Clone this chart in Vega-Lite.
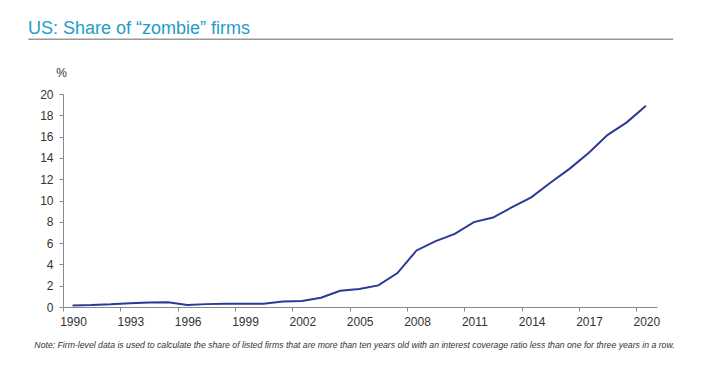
{
  "$schema": "https://vega.github.io/schema/vega-lite/v6.json",
  "autosize": {"type": "none"},
  "width": 594,
  "height": 213,
  "padding": {"left": 63, "top": 94, "right": 44, "bottom": 59},
  "config": {
    "view": {"stroke": null},
    "font": "Liberation Sans"
  },
  "title": {
    "text": "US: Share of “zombie” firms",
    "anchor": "start",
    "frame": "group",
    "color": "#1f9cc6",
    "fontSize": 18,
    "fontWeight": "normal",
    "font": "Liberation Sans",
    "dx": -35,
    "dy": 9,
    "offset": 10
  },
  "data": {
    "values": [
      {"year": "1990", "share": 0.15},
      {"year": "1991", "share": 0.18},
      {"year": "1992", "share": 0.25},
      {"year": "1993", "share": 0.36},
      {"year": "1994", "share": 0.42},
      {"year": "1995", "share": 0.45},
      {"year": "1996", "share": 0.18},
      {"year": "1997", "share": 0.27},
      {"year": "1998", "share": 0.3},
      {"year": "1999", "share": 0.3},
      {"year": "2000", "share": 0.3},
      {"year": "2001", "share": 0.52},
      {"year": "2002", "share": 0.56},
      {"year": "2003", "share": 0.87},
      {"year": "2004", "share": 1.53},
      {"year": "2005", "share": 1.69},
      {"year": "2006", "share": 2.03},
      {"year": "2007", "share": 3.19},
      {"year": "2008", "share": 5.31},
      {"year": "2009", "share": 6.19},
      {"year": "2010", "share": 6.87},
      {"year": "2011", "share": 7.97},
      {"year": "2012", "share": 8.4},
      {"year": "2013", "share": 9.37},
      {"year": "2014", "share": 10.3},
      {"year": "2015", "share": 11.66},
      {"year": "2016", "share": 12.97},
      {"year": "2017", "share": 14.47},
      {"year": "2018", "share": 16.16},
      {"year": "2019", "share": 17.34},
      {"year": "2020", "share": 18.9}
    ]
  },
  "resolve": {"axis": {"y": "independent"}},
  "layer": [
    {
      "mark": {"type": "line", "color": "#2b3a96", "strokeWidth": 2},
      "encoding": {
        "x": {
          "field": "year",
          "type": "temporal",
          "timeUnit": "utcyear",
          "bandPosition": 0.5,
          "scale": {
            "domain": [
              {"year": 1990, "month": 1, "date": 1, "utc": true},
              {"year": 2021, "month": 1, "date": 30, "utc": true}
            ],
            "nice": false
          },
          "axis": {
            "values": [
              {"year": 1990, "utc": true},
              {"year": 1993, "utc": true},
              {"year": 1996, "utc": true},
              {"year": 1999, "utc": true},
              {"year": 2002, "utc": true},
              {"year": 2005, "utc": true},
              {"year": 2008, "utc": true},
              {"year": 2011, "utc": true},
              {"year": 2014, "utc": true},
              {"year": 2017, "utc": true},
              {"year": 2020, "utc": true}
            ],
            "format": "%Y",
            "grid": false,
            "domainColor": "#8a8a8a",
            "tickColor": "#8a8a8a",
            "tickSize": 4,
            "labelOffset": 10,
            "labelPadding": 5,
            "labelFontSize": 12,
            "labelColor": "#333333",
            "labelFlush": false,
            "labelOverlap": false,
            "title": "Note: Firm-level data is used to calculate the share of listed firms that are more than ten years old with an interest coverage ratio less than one for three years in a row.",
            "titleFontSize": 8.7,
            "titleFontStyle": "italic",
            "titleFontWeight": "normal",
            "titleColor": "#333333",
            "titleAnchor": "middle",
            "titleAlign": "center",
            "titleBaseline": "middle",
            "titleX": 291,
            "titleY": 37
          }
        },
        "y": {
          "field": "share",
          "type": "quantitative",
          "scale": {"domain": [0, 20], "nice": false},
          "axis": {
            "values": [0, 2, 4, 6, 8, 10, 12, 14, 16, 18, 20],
            "grid": false,
            "domainColor": "#8a8a8a",
            "tickColor": "#8a8a8a",
            "tickSize": 4,
            "labelPadding": 6,
            "labelFontSize": 12,
            "labelColor": "#333333",
            "labelOverlap": false,
            "title": "%",
            "titleAngle": 0,
            "titleFontSize": 12,
            "titleFontWeight": "normal",
            "titleColor": "#333333",
            "titleAlign": "center",
            "titleBaseline": "middle",
            "titleX": -2,
            "titleY": -22
          }
        }
      }
    },
    {
      "data": {"values": [{"x1": "1988-03-08", "x2": "2021-12-05", "y": 25.14}]},
      "mark": {"type": "rule", "color": "#999999", "strokeWidth": 1.5},
      "encoding": {
        "x": {"field": "x1", "type": "temporal"},
        "x2": {"field": "x2"},
        "y": {"field": "y", "type": "quantitative", "axis": null}
      }
    }
  ]
}
